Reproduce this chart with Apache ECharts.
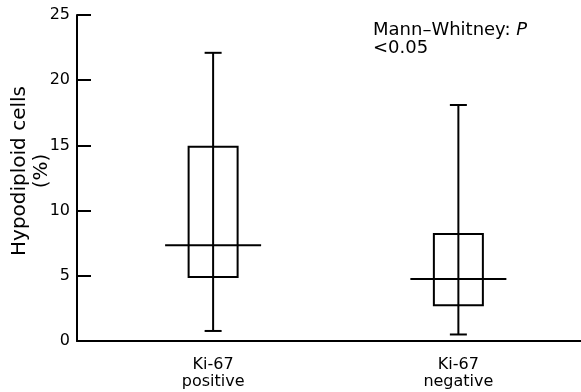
<!DOCTYPE html>
<html>
<head>
<meta charset="utf-8">
<script src="https://cdn.jsdelivr.net/npm/echarts@6/dist/echarts.min.js"></script>
<style>html,body{margin:0;padding:0;background:#fff}#c{width:581px;height:392px}</style>
</head>
<body>
<div id="c"></div>
<script>
var categories = ['Ki-67\npositive', 'Ki-67\nnegative'];
var positions = [1, 2];
var lowValues = [0.77, 0.5];
var q1Values = [4.9, 2.75];
var medianValues = [7.35, 4.75];
var q3Values = [14.9, 8.2];
var highValues = [22.1, 18.1];
var yTicks = [0, 5, 10, 15, 20, 25];

var data = positions.map(function (p, i) {
  return [p, lowValues[i], q1Values[i], medianValues[i], q3Values[i], highValues[i]];
});

var INK = '#000';
var chart = echarts.init(document.getElementById('c'));
chart.setOption({
  animation: false,
  backgroundColor: '#fff',
  grid: { left: 77, top: 15, right: 0, bottom: 51, containLabel: false, outerBoundsMode: 'none' },
  xAxis: {
    type: 'value', min: 0.445, max: 2.5,
    splitLine: { show: false },
    axisLine: { show: true, onZero: false, lineStyle: { color: INK, width: 2 } },
    axisTick: { show: false },
    axisLabel: {
      customValues: positions,
      formatter: function (v) { var i = positions.indexOf(v); return i >= 0 ? categories[i] : ''; },
      color: INK, fontFamily: 'DejaVu Sans', fontSize: 16, lineHeight: 17, margin: 15
    }
  },
  yAxis: {
    type: 'value', min: 0, max: 25, interval: 5,
    splitLine: { show: false },
    axisLine: { show: true, lineStyle: { color: INK, width: 2 } },
    axisTick: { show: true, inside: true, length: 14, lineStyle: { color: INK, width: 2 } },
    axisLabel: {
      color: INK, fontFamily: 'DejaVu Sans', fontSize: 16, margin: 7,
      customValues: yTicks
    },
    name: 'Hypodiploid cells\n(%)',
    nameLocation: 'middle',
    nameGap: 24,
    nameMoveOverlap: false,
    nameTextStyle: { color: INK, fontFamily: 'DejaVu Sans', fontSize: 20, lineHeight: 22, padding: [0, 0, 0, 14] }
  },
  graphic: [{
    type: 'text', left: 373, top: 21,
    style: {
      text: 'Mann–Whitney: {i|P}\n<0.05',
      fill: INK, font: '18px "DejaVu Sans"', lineHeight: 18,
      rich: { i: { fontStyle: 'italic', fontFamily: 'DejaVu Sans', fontSize: 18, fill: INK } }
    }
  }],
  series: [{
    type: 'custom',
    data: data,
    encode: { x: 0, y: [1, 2, 3, 4, 5] },
    renderItem: function (params, api) {
      var x = api.value(0);
      var pLow = api.coord([x, api.value(1)]);
      var pQ1 = api.coord([x, api.value(2)]);
      var pMed = api.coord([x, api.value(3)]);
      var pQ3 = api.coord([x, api.value(4)]);
      var pHigh = api.coord([x, api.value(5)]);
      var cx = pLow[0];
      var boxW = 49, capW = 17, medW = 96;
      var st = { stroke: INK, lineWidth: 2, fill: null };
      return {
        type: 'group',
        children: [
          { type: 'line', shape: { x1: cx, y1: pLow[1], x2: cx, y2: pHigh[1] }, style: st },
          { type: 'line', shape: { x1: cx - capW / 2, y1: pLow[1], x2: cx + capW / 2, y2: pLow[1] }, style: st },
          { type: 'line', shape: { x1: cx - capW / 2, y1: pHigh[1], x2: cx + capW / 2, y2: pHigh[1] }, style: st },
          { type: 'rect', shape: { x: cx - boxW / 2, y: pQ3[1], width: boxW, height: pQ1[1] - pQ3[1] }, style: { stroke: INK, lineWidth: 2, fill: 'rgba(0,0,0,0)' } },
          { type: 'line', shape: { x1: cx - medW / 2, y1: pMed[1], x2: cx + medW / 2, y2: pMed[1] }, style: st }
        ]
      };
    }
  }]
});
</script>
</body>
</html>
